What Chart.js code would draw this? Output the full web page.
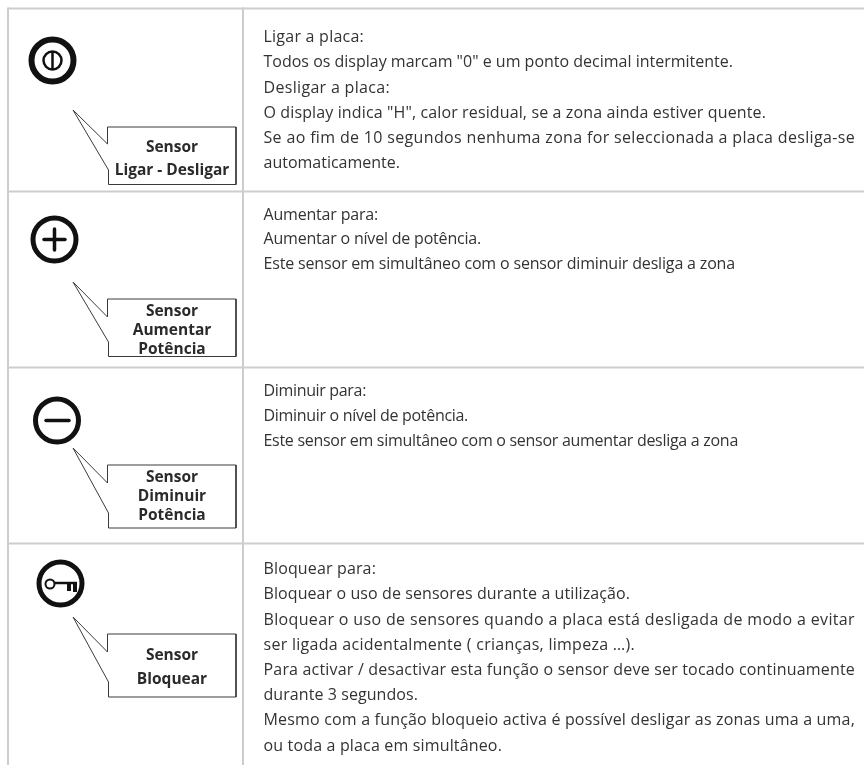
<!DOCTYPE html>
<html lang="pt">
<head>
<meta charset="utf-8">
<title>Sensores</title>
<script src="https://cdn.jsdelivr.net/npm/chart.js@4"></script>
<style>
    html, body { margin: 0; padding: 0; background: #fff; }
    canvas { display: block; filter: blur(0.35px); }
</style>
</head>
<body>
<canvas id="sheet" width="864" height="765"></canvas>
<script>
// 表格线
const ruleRows = [8.5, 191.5, 367.5, 543.5];
const ruleCols = [8, 243];
const pageWidth = 864;
const pageHeight = 765;

// 图标
const ringCenters = [[52.5, 60.5], [54.5, 239.5], [57, 420.5], [60.5, 583.5]];
const powerInner = [[52.5, 60.5]];
const powerBar = [[52.5, 51], [52.5, 70]];
const plusH = [[44, 239.5], [65, 239.5]];
const plusV = [[54.5, 229], [54.5, 250]];
const minusBar = [[46, 420.5], [69, 420.5]];
const keyBow = [[50, 584]];
const keyShaft = [[55, 583], [77, 583]];
const keyTeeth = [[69, 583], [69, 591]];
const keyTeeth2 = [[75, 583], [75, 592]];

// 标注框
const callouts = [
    [[73, 110], [107.5, 144], [107.5, 127], [236, 127], [236, 184.5], [108.5, 184.5], [108.5, 170], [73, 110]],
    [[73, 282], [107.5, 317], [107.5, 299], [236, 299], [236, 356.5], [108.5, 356.5], [108.5, 342], [73, 282]],
    [[73, 448], [107.5, 483], [107.5, 465], [236, 465], [236, 528], [108.5, 528], [108.5, 513], [73, 448]],
    [[73, 617], [107.5, 652], [107.5, 634], [236, 634], [236, 697], [108.5, 697], [108.5, 682], [73, 617]]
];
const calloutLabels = ['Sensor', 'Ligar - Desligar', 'Sensor', 'Aumentar', 'Potência', 'Sensor', 'Diminuir', 'Potência', 'Sensor', 'Bloquear'];
const calloutBaselines = [152, 175, 316, 335, 354, 482, 501, 520, 660, 684];
const calloutCenterX = 172;

// 说明文字
const bodyLines = [
    'Ligar a placa:',
    'Todos os display marcam "0" e um ponto decimal intermitente.',
    'Desligar a placa:',
    'O display indica "H", calor residual, se a zona ainda estiver quente.',
    'Se ao fim de 10 segundos nenhuma zona for seleccionada a placa desliga-se',
    'automaticamente.',
    'Aumentar para:',
    'Aumentar o nível de potência.',
    'Este sensor em simultâneo com o sensor diminuir desliga a zona',
    'Diminuir para:',
    'Diminuir o nível de potência.',
    'Este sensor em simultâneo com o sensor aumentar desliga a zona',
    'Bloquear para:',
    'Bloquear o uso de sensores durante a utilização.',
    'Bloquear o uso de sensores quando a placa está desligada de modo a evitar',
    'ser ligada acidentalmente ( crianças, limpeza …).',
    'Para activar / desactivar esta função o sensor deve ser tocado continuamente',
    'durante 3 segundos.',
    'Mesmo com a função bloqueio activa é possível desligar as zonas uma a uma,',
    'ou toda a placa em simultâneo.'
];
const bodyBaselines = [42, 67, 93, 118, 143, 168, 220, 244, 269, 396, 421, 446, 574, 599, 625, 650, 675, 700, 725, 751];
const bodyEnds = [364, 733, 390, 766, 855, 400, 378, 481, 735, 366, 468, 738, 376, 630, 855, 635, 855, 418, 855, 502];
const bodyX = 263.5;

function pts(list) {
    return list.map(p => ({ x: p[0], y: p[1] }));
}

function lineSet(list, color, width, cap) {
    return {
        type: 'line',
        data: pts(list),
        borderColor: color,
        borderWidth: width,
        borderCapStyle: cap || 'butt',
        borderJoinStyle: 'miter',
        pointRadius: 0,
        tension: 0,
        fill: false
    };
}

function ringSet(list, radius, width) {
    return {
        type: 'scatter',
        data: pts(list),
        pointStyle: 'circle',
        pointRadius: radius,
        pointBorderWidth: width,
        pointBorderColor: '#111',
        pointBackgroundColor: 'rgba(0,0,0,0)'
    };
}

const datasets = [];
ruleRows.forEach(y => datasets.push(lineSet([[ruleCols[0], y], [pageWidth, y]], '#cdcdcd', 2)));
ruleCols.forEach(x => datasets.push(lineSet([[x, ruleRows[0] - 1], [x, pageHeight]], '#cdcdcd', 2)));
callouts.forEach(c => datasets.push(lineSet(c, '#3a3a3a', 1)));

// 开关图标
datasets.push(ringSet(ringCenters.slice(0, 1), 21, 6));
datasets.push(ringSet(powerInner, 9, 2.5));
datasets.push(lineSet(powerBar, '#111', 2.5));
// 加减和钥匙
datasets.push(ringSet(ringCenters.slice(1), 21.5, 5));
datasets.push(lineSet(plusH, '#111', 3.5, 'round'));
datasets.push(lineSet(plusV, '#111', 3.5, 'round'));
datasets.push(lineSet(minusBar, '#111', 3.5, 'round'));
datasets.push(ringSet(keyBow, 4.5, 2));
datasets.push(lineSet(keyShaft, '#111', 2.5));
datasets.push(lineSet(keyTeeth, '#111', 4));
datasets.push(lineSet(keyTeeth2, '#111', 4));

// 文字插件
const textPlugin = {
    id: 'pageText',
    afterDatasetsDraw(chart) {
        const { ctx, scales } = chart;
        ctx.save();
        ctx.textBaseline = 'alphabetic';
        ctx.fillStyle = '#333';
        ctx.font = '16px "Open Sans"';
        ctx.textAlign = 'left';
        bodyLines.forEach((line, i) => {
            // 按读到的行尾调整字距
            ctx.letterSpacing = '0px';
            const x = scales.x.getPixelForValue(bodyX);
            const target = scales.x.getPixelForValue(bodyEnds[i]) - x;
            const extra = (target - ctx.measureText(line).width) / line.length;
            ctx.letterSpacing = extra.toFixed(3) + 'px';
            ctx.fillText(line, x, scales.y.getPixelForValue(bodyBaselines[i]));
        });
        ctx.letterSpacing = '0px';
        ctx.fillStyle = '#2a2a2a';
        ctx.font = 'bold 15.5px "Open Sans"';
        ctx.textAlign = 'center';
        calloutLabels.forEach((line, i) => {
            ctx.fillText(line, scales.x.getPixelForValue(calloutCenterX), scales.y.getPixelForValue(calloutBaselines[i]));
        });
        ctx.restore();
    }
};

new Chart(document.getElementById('sheet').getContext('2d'), {
    type: 'scatter',
    data: { datasets },
    options: {
        responsive: false,
        animation: false,
        layout: { padding: 0, autoPadding: false },
        scales: {
            x: { type: 'linear', min: 0, max: pageWidth, display: false },
            y: { type: 'linear', min: 0, max: pageHeight, reverse: true, display: false }
        },
        plugins: { legend: { display: false }, tooltip: { enabled: false } }
    },
    plugins: [textPlugin]
});
</script>
</body>
</html>
